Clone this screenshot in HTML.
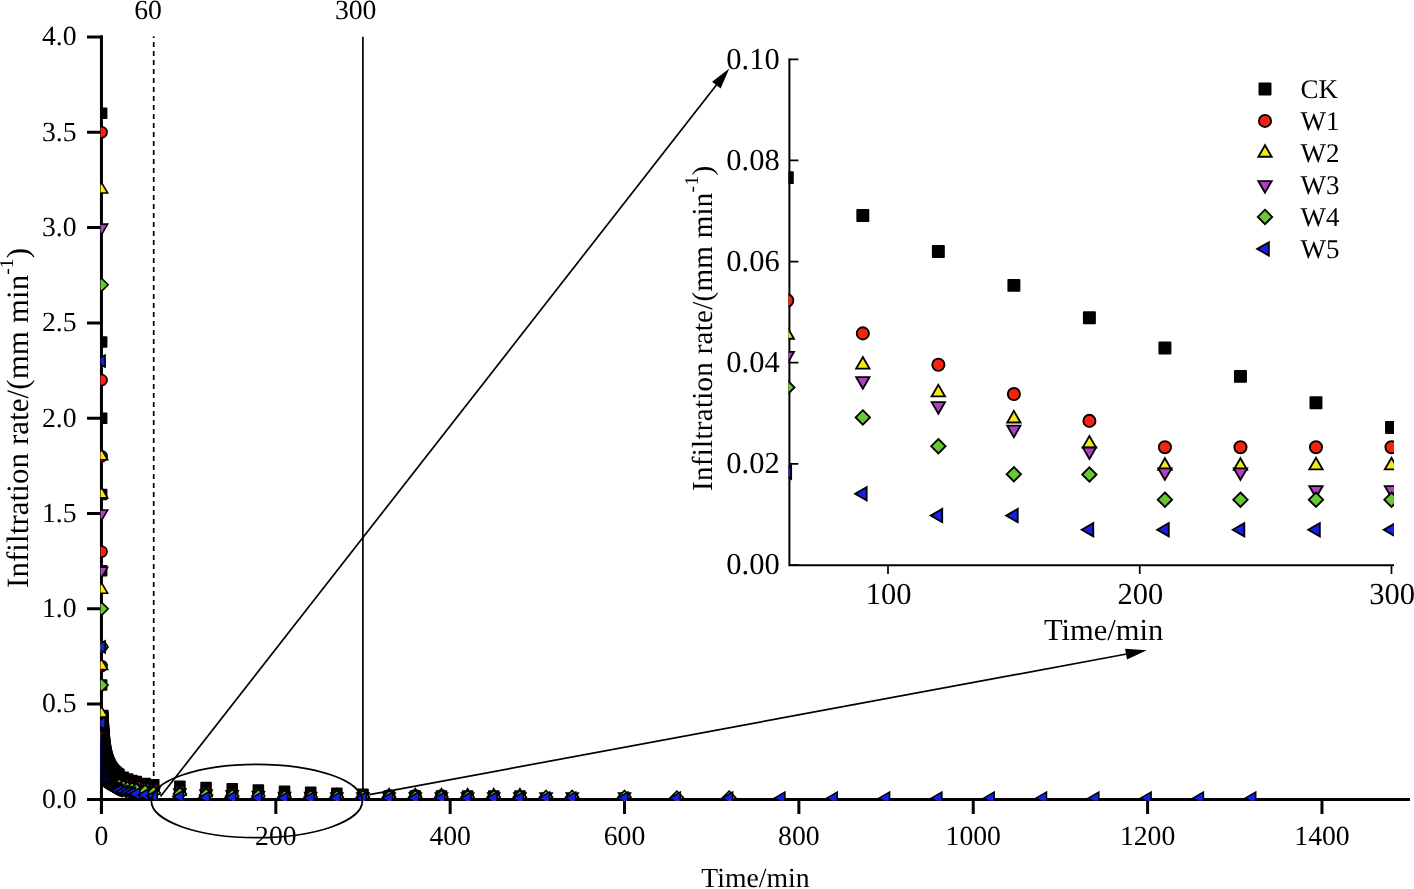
<!DOCTYPE html>
<html><head><meta charset="utf-8"><title>Infiltration rate</title>
<style>html,body{margin:0;padding:0;background:#fff;}body{width:1414px;height:889px;overflow:hidden;font-family:"Liberation Serif",serif;}svg{display:block;will-change:transform;}</style>
</head><body>
<svg width="1414" height="889" viewBox="0 0 1414 889" font-family="'Liberation Serif', serif" fill="#000" text-rendering="geometricPrecision">
<defs>
<clipPath id="cm"><rect x="100.55" y="20" width="1309.45" height="780.85"/></clipPath>
<clipPath id="ci"><rect x="788.5" y="50" width="605.5" height="516.2"/></clipPath>
</defs>
<rect width="1414" height="889" fill="#fff"/>
<line x1="153.7" y1="36.2" x2="153.7" y2="799.4" stroke="#000" stroke-width="1.7" stroke-dasharray="5 4" stroke-dashoffset="3.3"/>
<line x1="362.9" y1="36.8" x2="362.9" y2="799.4" stroke="#000" stroke-width="1.7"/>
<path d="M101.45 35.4V814.1M87 799.4H1410" stroke="#000" stroke-width="3" fill="none"/>
<path d="M87 799.40H102.95M87 704.10H102.95M87 608.80H102.95M87 513.50H102.95M87 418.20H102.95M87 322.90H102.95M87 227.60H102.95M87 132.30H102.95M87 37.00H102.95M101.45 799.4V814.1M275.81 799.4V814.1M450.17 799.4V814.1M624.53 799.4V814.1M798.89 799.4V814.1M973.25 799.4V814.1M1147.61 799.4V814.1M1321.97 799.4V814.1" stroke="#000" stroke-width="3" fill="none"/>
<g clip-path="url(#cm)">
<rect x="96.63" y="108.25" width="9.99" height="9.99" fill="#000000" stroke="#000" stroke-width="1.6" stroke-linejoin="round"/>
<rect x="96.63" y="336.96" width="9.99" height="9.99" fill="#000000" stroke="#000" stroke-width="1.6" stroke-linejoin="round"/>
<rect x="96.63" y="413.20" width="9.99" height="9.99" fill="#000000" stroke="#000" stroke-width="1.6" stroke-linejoin="round"/>
<rect x="96.63" y="489.44" width="9.99" height="9.99" fill="#000000" stroke="#000" stroke-width="1.6" stroke-linejoin="round"/>
<rect x="96.63" y="565.68" width="9.99" height="9.99" fill="#000000" stroke="#000" stroke-width="1.6" stroke-linejoin="round"/>
<rect x="96.63" y="680.04" width="9.99" height="9.99" fill="#000000" stroke="#000" stroke-width="1.6" stroke-linejoin="round"/>
<rect x="97.83" y="710.54" width="9.99" height="9.99" fill="#000000" stroke="#000" stroke-width="1.6" stroke-linejoin="round"/>
<rect x="97.87" y="711.94" width="9.99" height="9.99" fill="#000000" stroke="#000" stroke-width="1.6" stroke-linejoin="round"/>
<rect x="97.93" y="713.34" width="9.99" height="9.99" fill="#000000" stroke="#000" stroke-width="1.6" stroke-linejoin="round"/>
<rect x="97.98" y="714.74" width="9.99" height="9.99" fill="#000000" stroke="#000" stroke-width="1.6" stroke-linejoin="round"/>
<rect x="98.04" y="716.14" width="9.99" height="9.99" fill="#000000" stroke="#000" stroke-width="1.6" stroke-linejoin="round"/>
<rect x="98.10" y="717.54" width="9.99" height="9.99" fill="#000000" stroke="#000" stroke-width="1.6" stroke-linejoin="round"/>
<rect x="98.16" y="718.94" width="9.99" height="9.99" fill="#000000" stroke="#000" stroke-width="1.6" stroke-linejoin="round"/>
<rect x="98.23" y="720.34" width="9.99" height="9.99" fill="#000000" stroke="#000" stroke-width="1.6" stroke-linejoin="round"/>
<rect x="98.30" y="721.74" width="9.99" height="9.99" fill="#000000" stroke="#000" stroke-width="1.6" stroke-linejoin="round"/>
<rect x="98.38" y="723.14" width="9.99" height="9.99" fill="#000000" stroke="#000" stroke-width="1.6" stroke-linejoin="round"/>
<rect x="98.46" y="724.54" width="9.99" height="9.99" fill="#000000" stroke="#000" stroke-width="1.6" stroke-linejoin="round"/>
<rect x="98.55" y="725.94" width="9.99" height="9.99" fill="#000000" stroke="#000" stroke-width="1.6" stroke-linejoin="round"/>
<rect x="98.64" y="727.34" width="9.99" height="9.99" fill="#000000" stroke="#000" stroke-width="1.6" stroke-linejoin="round"/>
<rect x="98.74" y="728.74" width="9.99" height="9.99" fill="#000000" stroke="#000" stroke-width="1.6" stroke-linejoin="round"/>
<rect x="98.84" y="730.14" width="9.99" height="9.99" fill="#000000" stroke="#000" stroke-width="1.6" stroke-linejoin="round"/>
<rect x="98.95" y="731.54" width="9.99" height="9.99" fill="#000000" stroke="#000" stroke-width="1.6" stroke-linejoin="round"/>
<rect x="99.07" y="732.94" width="9.99" height="9.99" fill="#000000" stroke="#000" stroke-width="1.6" stroke-linejoin="round"/>
<rect x="99.20" y="734.34" width="9.99" height="9.99" fill="#000000" stroke="#000" stroke-width="1.6" stroke-linejoin="round"/>
<rect x="99.34" y="735.74" width="9.99" height="9.99" fill="#000000" stroke="#000" stroke-width="1.6" stroke-linejoin="round"/>
<rect x="99.49" y="737.14" width="9.99" height="9.99" fill="#000000" stroke="#000" stroke-width="1.6" stroke-linejoin="round"/>
<rect x="99.65" y="738.54" width="9.99" height="9.99" fill="#000000" stroke="#000" stroke-width="1.6" stroke-linejoin="round"/>
<rect x="99.82" y="739.94" width="9.99" height="9.99" fill="#000000" stroke="#000" stroke-width="1.6" stroke-linejoin="round"/>
<rect x="100.01" y="741.34" width="9.99" height="9.99" fill="#000000" stroke="#000" stroke-width="1.6" stroke-linejoin="round"/>
<rect x="100.21" y="742.74" width="9.99" height="9.99" fill="#000000" stroke="#000" stroke-width="1.6" stroke-linejoin="round"/>
<rect x="100.44" y="744.14" width="9.99" height="9.99" fill="#000000" stroke="#000" stroke-width="1.6" stroke-linejoin="round"/>
<rect x="100.68" y="745.54" width="9.99" height="9.99" fill="#000000" stroke="#000" stroke-width="1.6" stroke-linejoin="round"/>
<rect x="100.94" y="746.94" width="9.99" height="9.99" fill="#000000" stroke="#000" stroke-width="1.6" stroke-linejoin="round"/>
<rect x="101.23" y="748.34" width="9.99" height="9.99" fill="#000000" stroke="#000" stroke-width="1.6" stroke-linejoin="round"/>
<rect x="101.55" y="749.74" width="9.99" height="9.99" fill="#000000" stroke="#000" stroke-width="1.6" stroke-linejoin="round"/>
<rect x="101.90" y="751.14" width="9.99" height="9.99" fill="#000000" stroke="#000" stroke-width="1.6" stroke-linejoin="round"/>
<rect x="102.28" y="752.54" width="9.99" height="9.99" fill="#000000" stroke="#000" stroke-width="1.6" stroke-linejoin="round"/>
<rect x="102.71" y="753.94" width="9.99" height="9.99" fill="#000000" stroke="#000" stroke-width="1.6" stroke-linejoin="round"/>
<rect x="103.19" y="755.34" width="9.99" height="9.99" fill="#000000" stroke="#000" stroke-width="1.6" stroke-linejoin="round"/>
<rect x="103.72" y="756.74" width="9.99" height="9.99" fill="#000000" stroke="#000" stroke-width="1.6" stroke-linejoin="round"/>
<rect x="104.31" y="758.14" width="9.99" height="9.99" fill="#000000" stroke="#000" stroke-width="1.6" stroke-linejoin="round"/>
<rect x="104.99" y="759.54" width="9.99" height="9.99" fill="#000000" stroke="#000" stroke-width="1.6" stroke-linejoin="round"/>
<rect x="105.75" y="760.94" width="9.99" height="9.99" fill="#000000" stroke="#000" stroke-width="1.6" stroke-linejoin="round"/>
<rect x="106.61" y="762.34" width="9.99" height="9.99" fill="#000000" stroke="#000" stroke-width="1.6" stroke-linejoin="round"/>
<rect x="107.48" y="763.58" width="9.99" height="9.99" fill="#000000" stroke="#000" stroke-width="1.6" stroke-linejoin="round"/>
<rect x="108.36" y="764.69" width="9.99" height="9.99" fill="#000000" stroke="#000" stroke-width="1.6" stroke-linejoin="round"/>
<rect x="109.23" y="765.68" width="9.99" height="9.99" fill="#000000" stroke="#000" stroke-width="1.6" stroke-linejoin="round"/>
<rect x="110.10" y="766.58" width="9.99" height="9.99" fill="#000000" stroke="#000" stroke-width="1.6" stroke-linejoin="round"/>
<rect x="110.97" y="767.39" width="9.99" height="9.99" fill="#000000" stroke="#000" stroke-width="1.6" stroke-linejoin="round"/>
<rect x="111.84" y="768.14" width="9.99" height="9.99" fill="#000000" stroke="#000" stroke-width="1.6" stroke-linejoin="round"/>
<rect x="112.71" y="768.82" width="9.99" height="9.99" fill="#000000" stroke="#000" stroke-width="1.6" stroke-linejoin="round"/>
<rect x="113.59" y="769.46" width="9.99" height="9.99" fill="#000000" stroke="#000" stroke-width="1.6" stroke-linejoin="round"/>
<rect x="113.89" y="769.67" width="9.99" height="9.99" fill="#000000" stroke="#000" stroke-width="1.6" stroke-linejoin="round"/>
<rect x="118.25" y="772.18" width="9.99" height="9.99" fill="#000000" stroke="#000" stroke-width="1.6" stroke-linejoin="round"/>
<rect x="122.61" y="774.04" width="9.99" height="9.99" fill="#000000" stroke="#000" stroke-width="1.6" stroke-linejoin="round"/>
<rect x="126.97" y="775.49" width="9.99" height="9.99" fill="#000000" stroke="#000" stroke-width="1.6" stroke-linejoin="round"/>
<rect x="131.33" y="776.67" width="9.99" height="9.99" fill="#000000" stroke="#000" stroke-width="1.6" stroke-linejoin="round"/>
<rect x="140.05" y="778.47" width="9.99" height="9.99" fill="#000000" stroke="#000" stroke-width="1.6" stroke-linejoin="round"/>
<rect x="148.76" y="779.81" width="9.99" height="9.99" fill="#000000" stroke="#000" stroke-width="1.6" stroke-linejoin="round"/>
<rect x="174.92" y="781.23" width="9.99" height="9.99" fill="#000000" stroke="#000" stroke-width="1.6" stroke-linejoin="round"/>
<rect x="201.07" y="782.59" width="9.99" height="9.99" fill="#000000" stroke="#000" stroke-width="1.6" stroke-linejoin="round"/>
<rect x="227.23" y="783.86" width="9.99" height="9.99" fill="#000000" stroke="#000" stroke-width="1.6" stroke-linejoin="round"/>
<rect x="253.38" y="785.08" width="9.99" height="9.99" fill="#000000" stroke="#000" stroke-width="1.6" stroke-linejoin="round"/>
<rect x="279.53" y="786.23" width="9.99" height="9.99" fill="#000000" stroke="#000" stroke-width="1.6" stroke-linejoin="round"/>
<rect x="305.69" y="787.30" width="9.99" height="9.99" fill="#000000" stroke="#000" stroke-width="1.6" stroke-linejoin="round"/>
<rect x="331.84" y="788.29" width="9.99" height="9.99" fill="#000000" stroke="#000" stroke-width="1.6" stroke-linejoin="round"/>
<rect x="358.00" y="789.22" width="9.99" height="9.99" fill="#000000" stroke="#000" stroke-width="1.6" stroke-linejoin="round"/>
<rect x="384.15" y="790.97" width="9.99" height="9.99" fill="#000000" stroke="#000" stroke-width="1.6" stroke-linejoin="round"/>
<rect x="410.30" y="790.97" width="9.99" height="9.99" fill="#000000" stroke="#000" stroke-width="1.6" stroke-linejoin="round"/>
<rect x="436.46" y="790.97" width="9.99" height="9.99" fill="#000000" stroke="#000" stroke-width="1.6" stroke-linejoin="round"/>
<rect x="462.61" y="790.97" width="9.99" height="9.99" fill="#000000" stroke="#000" stroke-width="1.6" stroke-linejoin="round"/>
<rect x="488.76" y="790.97" width="9.99" height="9.99" fill="#000000" stroke="#000" stroke-width="1.6" stroke-linejoin="round"/>
<rect x="514.92" y="790.97" width="9.99" height="9.99" fill="#000000" stroke="#000" stroke-width="1.6" stroke-linejoin="round"/>
<circle cx="101.62" cy="132.30" r="5.49" fill="#f5230f" stroke="#000" stroke-width="1.6" stroke-linejoin="miter"/>
<circle cx="101.62" cy="380.08" r="5.49" fill="#f5230f" stroke="#000" stroke-width="1.6" stroke-linejoin="miter"/>
<circle cx="101.62" cy="456.32" r="5.49" fill="#f5230f" stroke="#000" stroke-width="1.6" stroke-linejoin="miter"/>
<circle cx="101.62" cy="551.62" r="5.49" fill="#f5230f" stroke="#000" stroke-width="1.6" stroke-linejoin="miter"/>
<circle cx="101.62" cy="646.92" r="5.49" fill="#f5230f" stroke="#000" stroke-width="1.6" stroke-linejoin="miter"/>
<circle cx="101.62" cy="665.98" r="5.49" fill="#f5230f" stroke="#000" stroke-width="1.6" stroke-linejoin="miter"/>
<circle cx="103.23" cy="738.41" r="5.49" fill="#f5230f" stroke="#000" stroke-width="1.6" stroke-linejoin="miter"/>
<circle cx="103.31" cy="739.81" r="5.49" fill="#f5230f" stroke="#000" stroke-width="1.6" stroke-linejoin="miter"/>
<circle cx="103.40" cy="741.21" r="5.49" fill="#f5230f" stroke="#000" stroke-width="1.6" stroke-linejoin="miter"/>
<circle cx="103.50" cy="742.61" r="5.49" fill="#f5230f" stroke="#000" stroke-width="1.6" stroke-linejoin="miter"/>
<circle cx="103.60" cy="744.01" r="5.49" fill="#f5230f" stroke="#000" stroke-width="1.6" stroke-linejoin="miter"/>
<circle cx="103.71" cy="745.41" r="5.49" fill="#f5230f" stroke="#000" stroke-width="1.6" stroke-linejoin="miter"/>
<circle cx="103.83" cy="746.81" r="5.49" fill="#f5230f" stroke="#000" stroke-width="1.6" stroke-linejoin="miter"/>
<circle cx="103.95" cy="748.21" r="5.49" fill="#f5230f" stroke="#000" stroke-width="1.6" stroke-linejoin="miter"/>
<circle cx="104.09" cy="749.61" r="5.49" fill="#f5230f" stroke="#000" stroke-width="1.6" stroke-linejoin="miter"/>
<circle cx="104.24" cy="751.01" r="5.49" fill="#f5230f" stroke="#000" stroke-width="1.6" stroke-linejoin="miter"/>
<circle cx="104.41" cy="752.41" r="5.49" fill="#f5230f" stroke="#000" stroke-width="1.6" stroke-linejoin="miter"/>
<circle cx="104.59" cy="753.81" r="5.49" fill="#f5230f" stroke="#000" stroke-width="1.6" stroke-linejoin="miter"/>
<circle cx="104.78" cy="755.21" r="5.49" fill="#f5230f" stroke="#000" stroke-width="1.6" stroke-linejoin="miter"/>
<circle cx="105.00" cy="756.61" r="5.49" fill="#f5230f" stroke="#000" stroke-width="1.6" stroke-linejoin="miter"/>
<circle cx="105.23" cy="758.01" r="5.49" fill="#f5230f" stroke="#000" stroke-width="1.6" stroke-linejoin="miter"/>
<circle cx="105.49" cy="759.41" r="5.49" fill="#f5230f" stroke="#000" stroke-width="1.6" stroke-linejoin="miter"/>
<circle cx="105.78" cy="760.81" r="5.49" fill="#f5230f" stroke="#000" stroke-width="1.6" stroke-linejoin="miter"/>
<circle cx="106.11" cy="762.21" r="5.49" fill="#f5230f" stroke="#000" stroke-width="1.6" stroke-linejoin="miter"/>
<circle cx="106.47" cy="763.61" r="5.49" fill="#f5230f" stroke="#000" stroke-width="1.6" stroke-linejoin="miter"/>
<circle cx="106.87" cy="765.01" r="5.49" fill="#f5230f" stroke="#000" stroke-width="1.6" stroke-linejoin="miter"/>
<circle cx="107.33" cy="766.41" r="5.49" fill="#f5230f" stroke="#000" stroke-width="1.6" stroke-linejoin="miter"/>
<circle cx="107.85" cy="767.81" r="5.49" fill="#f5230f" stroke="#000" stroke-width="1.6" stroke-linejoin="miter"/>
<circle cx="108.43" cy="769.21" r="5.49" fill="#f5230f" stroke="#000" stroke-width="1.6" stroke-linejoin="miter"/>
<circle cx="109.11" cy="770.61" r="5.49" fill="#f5230f" stroke="#000" stroke-width="1.6" stroke-linejoin="miter"/>
<circle cx="109.89" cy="772.01" r="5.49" fill="#f5230f" stroke="#000" stroke-width="1.6" stroke-linejoin="miter"/>
<circle cx="110.76" cy="773.36" r="5.49" fill="#f5230f" stroke="#000" stroke-width="1.6" stroke-linejoin="miter"/>
<circle cx="111.63" cy="774.53" r="5.49" fill="#f5230f" stroke="#000" stroke-width="1.6" stroke-linejoin="miter"/>
<circle cx="112.50" cy="775.56" r="5.49" fill="#f5230f" stroke="#000" stroke-width="1.6" stroke-linejoin="miter"/>
<circle cx="113.37" cy="776.48" r="5.49" fill="#f5230f" stroke="#000" stroke-width="1.6" stroke-linejoin="miter"/>
<circle cx="114.25" cy="777.29" r="5.49" fill="#f5230f" stroke="#000" stroke-width="1.6" stroke-linejoin="miter"/>
<circle cx="115.12" cy="778.03" r="5.49" fill="#f5230f" stroke="#000" stroke-width="1.6" stroke-linejoin="miter"/>
<circle cx="115.99" cy="778.70" r="5.49" fill="#f5230f" stroke="#000" stroke-width="1.6" stroke-linejoin="miter"/>
<circle cx="116.86" cy="779.31" r="5.49" fill="#f5230f" stroke="#000" stroke-width="1.6" stroke-linejoin="miter"/>
<circle cx="117.73" cy="779.87" r="5.49" fill="#f5230f" stroke="#000" stroke-width="1.6" stroke-linejoin="miter"/>
<circle cx="118.61" cy="780.39" r="5.49" fill="#f5230f" stroke="#000" stroke-width="1.6" stroke-linejoin="miter"/>
<circle cx="118.89" cy="780.55" r="5.49" fill="#f5230f" stroke="#000" stroke-width="1.6" stroke-linejoin="miter"/>
<circle cx="123.25" cy="782.59" r="5.49" fill="#f5230f" stroke="#000" stroke-width="1.6" stroke-linejoin="miter"/>
<circle cx="127.60" cy="784.10" r="5.49" fill="#f5230f" stroke="#000" stroke-width="1.6" stroke-linejoin="miter"/>
<circle cx="131.96" cy="785.27" r="5.49" fill="#f5230f" stroke="#000" stroke-width="1.6" stroke-linejoin="miter"/>
<circle cx="136.32" cy="786.41" r="5.49" fill="#f5230f" stroke="#000" stroke-width="1.6" stroke-linejoin="miter"/>
<circle cx="145.04" cy="788.11" r="5.49" fill="#f5230f" stroke="#000" stroke-width="1.6" stroke-linejoin="miter"/>
<circle cx="153.76" cy="789.43" r="5.49" fill="#f5230f" stroke="#000" stroke-width="1.6" stroke-linejoin="miter"/>
<circle cx="179.91" cy="790.67" r="5.49" fill="#f5230f" stroke="#000" stroke-width="1.6" stroke-linejoin="miter"/>
<circle cx="206.07" cy="791.85" r="5.49" fill="#f5230f" stroke="#000" stroke-width="1.6" stroke-linejoin="miter"/>
<circle cx="232.22" cy="792.96" r="5.49" fill="#f5230f" stroke="#000" stroke-width="1.6" stroke-linejoin="miter"/>
<circle cx="258.37" cy="793.97" r="5.49" fill="#f5230f" stroke="#000" stroke-width="1.6" stroke-linejoin="miter"/>
<circle cx="284.53" cy="794.96" r="5.49" fill="#f5230f" stroke="#000" stroke-width="1.6" stroke-linejoin="miter"/>
<circle cx="310.68" cy="794.96" r="5.49" fill="#f5230f" stroke="#000" stroke-width="1.6" stroke-linejoin="miter"/>
<circle cx="336.84" cy="794.96" r="5.49" fill="#f5230f" stroke="#000" stroke-width="1.6" stroke-linejoin="miter"/>
<circle cx="362.99" cy="794.96" r="5.49" fill="#f5230f" stroke="#000" stroke-width="1.6" stroke-linejoin="miter"/>
<circle cx="389.14" cy="795.30" r="5.49" fill="#f5230f" stroke="#000" stroke-width="1.6" stroke-linejoin="miter"/>
<circle cx="415.30" cy="795.30" r="5.49" fill="#f5230f" stroke="#000" stroke-width="1.6" stroke-linejoin="miter"/>
<circle cx="441.45" cy="795.30" r="5.49" fill="#f5230f" stroke="#000" stroke-width="1.6" stroke-linejoin="miter"/>
<circle cx="467.61" cy="796.54" r="5.49" fill="#f5230f" stroke="#000" stroke-width="1.6" stroke-linejoin="miter"/>
<circle cx="493.76" cy="796.54" r="5.49" fill="#f5230f" stroke="#000" stroke-width="1.6" stroke-linejoin="miter"/>
<circle cx="519.91" cy="796.54" r="5.49" fill="#f5230f" stroke="#000" stroke-width="1.6" stroke-linejoin="miter"/>
<path d="M101.62 182.55L107.63 192.95L95.62 192.95Z" fill="#f4e916" stroke="#000" stroke-width="1.6" stroke-linejoin="miter"/>
<path d="M101.62 449.39L107.63 459.78L95.62 459.78Z" fill="#f4e916" stroke="#000" stroke-width="1.6" stroke-linejoin="miter"/>
<path d="M101.62 487.51L107.63 497.90L95.62 497.90Z" fill="#f4e916" stroke="#000" stroke-width="1.6" stroke-linejoin="miter"/>
<path d="M101.62 582.81L107.63 593.21L95.62 593.21Z" fill="#f4e916" stroke="#000" stroke-width="1.6" stroke-linejoin="miter"/>
<path d="M101.62 659.05L107.63 669.45L95.62 669.45Z" fill="#f4e916" stroke="#000" stroke-width="1.6" stroke-linejoin="miter"/>
<path d="M101.62 706.70L107.63 717.10L95.62 717.10Z" fill="#f4e916" stroke="#000" stroke-width="1.6" stroke-linejoin="miter"/>
<path d="M103.21 735.29L109.21 745.69L97.21 745.69Z" fill="#f4e916" stroke="#000" stroke-width="1.6" stroke-linejoin="miter"/>
<path d="M103.30 736.69L109.30 747.09L97.30 747.09Z" fill="#f4e916" stroke="#000" stroke-width="1.6" stroke-linejoin="miter"/>
<path d="M103.39 738.09L109.39 748.49L97.39 748.49Z" fill="#f4e916" stroke="#000" stroke-width="1.6" stroke-linejoin="miter"/>
<path d="M103.49 739.49L109.49 749.89L97.48 749.89Z" fill="#f4e916" stroke="#000" stroke-width="1.6" stroke-linejoin="miter"/>
<path d="M103.59 740.89L109.59 751.29L97.59 751.29Z" fill="#f4e916" stroke="#000" stroke-width="1.6" stroke-linejoin="miter"/>
<path d="M103.71 742.29L109.71 752.69L97.71 752.69Z" fill="#f4e916" stroke="#000" stroke-width="1.6" stroke-linejoin="miter"/>
<path d="M103.83 743.69L109.83 754.09L97.83 754.09Z" fill="#f4e916" stroke="#000" stroke-width="1.6" stroke-linejoin="miter"/>
<path d="M103.97 745.09L109.97 755.49L97.97 755.49Z" fill="#f4e916" stroke="#000" stroke-width="1.6" stroke-linejoin="miter"/>
<path d="M104.11 746.49L110.12 756.89L98.11 756.89Z" fill="#f4e916" stroke="#000" stroke-width="1.6" stroke-linejoin="miter"/>
<path d="M104.28 747.89L110.28 758.29L98.27 758.29Z" fill="#f4e916" stroke="#000" stroke-width="1.6" stroke-linejoin="miter"/>
<path d="M104.45 749.29L110.45 759.69L98.45 759.69Z" fill="#f4e916" stroke="#000" stroke-width="1.6" stroke-linejoin="miter"/>
<path d="M104.64 750.69L110.65 761.09L98.64 761.09Z" fill="#f4e916" stroke="#000" stroke-width="1.6" stroke-linejoin="miter"/>
<path d="M104.86 752.09L110.86 762.49L98.86 762.49Z" fill="#f4e916" stroke="#000" stroke-width="1.6" stroke-linejoin="miter"/>
<path d="M105.09 753.49L111.10 763.89L99.09 763.89Z" fill="#f4e916" stroke="#000" stroke-width="1.6" stroke-linejoin="miter"/>
<path d="M105.36 754.89L111.36 765.29L99.35 765.29Z" fill="#f4e916" stroke="#000" stroke-width="1.6" stroke-linejoin="miter"/>
<path d="M105.65 756.29L111.65 766.69L99.65 766.69Z" fill="#f4e916" stroke="#000" stroke-width="1.6" stroke-linejoin="miter"/>
<path d="M105.97 757.69L111.97 768.09L99.97 768.09Z" fill="#f4e916" stroke="#000" stroke-width="1.6" stroke-linejoin="miter"/>
<path d="M106.34 759.09L112.34 769.49L100.34 769.49Z" fill="#f4e916" stroke="#000" stroke-width="1.6" stroke-linejoin="miter"/>
<path d="M106.75 760.49L112.76 770.89L100.75 770.89Z" fill="#f4e916" stroke="#000" stroke-width="1.6" stroke-linejoin="miter"/>
<path d="M107.22 761.89L113.23 772.29L101.22 772.29Z" fill="#f4e916" stroke="#000" stroke-width="1.6" stroke-linejoin="miter"/>
<path d="M107.76 763.29L113.76 773.69L101.76 773.69Z" fill="#f4e916" stroke="#000" stroke-width="1.6" stroke-linejoin="miter"/>
<path d="M108.38 764.69L114.38 775.09L102.38 775.09Z" fill="#f4e916" stroke="#000" stroke-width="1.6" stroke-linejoin="miter"/>
<path d="M109.09 766.09L115.09 776.49L103.09 776.49Z" fill="#f4e916" stroke="#000" stroke-width="1.6" stroke-linejoin="miter"/>
<path d="M109.92 767.49L115.92 777.89L103.92 777.89Z" fill="#f4e916" stroke="#000" stroke-width="1.6" stroke-linejoin="miter"/>
<path d="M110.79 768.75L116.80 779.14L104.79 779.14Z" fill="#f4e916" stroke="#000" stroke-width="1.6" stroke-linejoin="miter"/>
<path d="M111.67 769.84L117.67 780.23L105.66 780.23Z" fill="#f4e916" stroke="#000" stroke-width="1.6" stroke-linejoin="miter"/>
<path d="M112.54 770.79L118.54 781.19L106.54 781.19Z" fill="#f4e916" stroke="#000" stroke-width="1.6" stroke-linejoin="miter"/>
<path d="M113.41 771.64L119.41 782.04L107.41 782.04Z" fill="#f4e916" stroke="#000" stroke-width="1.6" stroke-linejoin="miter"/>
<path d="M114.28 772.40L120.28 782.80L108.28 782.80Z" fill="#f4e916" stroke="#000" stroke-width="1.6" stroke-linejoin="miter"/>
<path d="M115.15 773.08L121.16 783.48L109.15 783.48Z" fill="#f4e916" stroke="#000" stroke-width="1.6" stroke-linejoin="miter"/>
<path d="M116.03 773.70L122.03 784.10L110.02 784.10Z" fill="#f4e916" stroke="#000" stroke-width="1.6" stroke-linejoin="miter"/>
<path d="M116.90 774.27L122.90 784.67L110.90 784.67Z" fill="#f4e916" stroke="#000" stroke-width="1.6" stroke-linejoin="miter"/>
<path d="M117.77 774.79L123.77 785.19L111.77 785.19Z" fill="#f4e916" stroke="#000" stroke-width="1.6" stroke-linejoin="miter"/>
<path d="M118.64 775.27L124.64 785.66L112.64 785.66Z" fill="#f4e916" stroke="#000" stroke-width="1.6" stroke-linejoin="miter"/>
<path d="M118.89 775.40L124.89 785.79L112.88 785.79Z" fill="#f4e916" stroke="#000" stroke-width="1.6" stroke-linejoin="miter"/>
<path d="M123.25 777.29L129.25 787.69L117.24 787.69Z" fill="#f4e916" stroke="#000" stroke-width="1.6" stroke-linejoin="miter"/>
<path d="M127.60 778.68L133.61 789.08L121.60 789.08Z" fill="#f4e916" stroke="#000" stroke-width="1.6" stroke-linejoin="miter"/>
<path d="M131.96 779.76L137.96 790.16L125.96 790.16Z" fill="#f4e916" stroke="#000" stroke-width="1.6" stroke-linejoin="miter"/>
<path d="M136.32 780.87L142.32 791.27L130.32 791.27Z" fill="#f4e916" stroke="#000" stroke-width="1.6" stroke-linejoin="miter"/>
<path d="M145.04 782.51L151.04 792.91L139.04 792.91Z" fill="#f4e916" stroke="#000" stroke-width="1.6" stroke-linejoin="miter"/>
<path d="M153.76 783.80L159.76 794.19L147.76 794.19Z" fill="#f4e916" stroke="#000" stroke-width="1.6" stroke-linejoin="miter"/>
<path d="M179.91 784.92L185.91 795.32L173.91 795.32Z" fill="#f4e916" stroke="#000" stroke-width="1.6" stroke-linejoin="miter"/>
<path d="M206.07 785.97L212.07 796.37L200.06 796.37Z" fill="#f4e916" stroke="#000" stroke-width="1.6" stroke-linejoin="miter"/>
<path d="M232.22 786.95L238.22 797.35L226.22 797.35Z" fill="#f4e916" stroke="#000" stroke-width="1.6" stroke-linejoin="miter"/>
<path d="M258.37 787.90L264.38 798.30L252.37 798.30Z" fill="#f4e916" stroke="#000" stroke-width="1.6" stroke-linejoin="miter"/>
<path d="M284.53 788.73L290.53 799.13L278.53 799.13Z" fill="#f4e916" stroke="#000" stroke-width="1.6" stroke-linejoin="miter"/>
<path d="M310.68 788.73L316.68 799.13L304.68 799.13Z" fill="#f4e916" stroke="#000" stroke-width="1.6" stroke-linejoin="miter"/>
<path d="M336.84 788.72L342.84 799.12L330.83 799.12Z" fill="#f4e916" stroke="#000" stroke-width="1.6" stroke-linejoin="miter"/>
<path d="M362.99 788.72L368.99 799.12L356.99 799.12Z" fill="#f4e916" stroke="#000" stroke-width="1.6" stroke-linejoin="miter"/>
<path d="M389.14 788.72L395.15 799.11L383.14 799.11Z" fill="#f4e916" stroke="#000" stroke-width="1.6" stroke-linejoin="miter"/>
<path d="M415.30 788.72L421.30 799.11L409.30 799.11Z" fill="#f4e916" stroke="#000" stroke-width="1.6" stroke-linejoin="miter"/>
<path d="M441.45 788.72L447.45 799.11L435.45 799.11Z" fill="#f4e916" stroke="#000" stroke-width="1.6" stroke-linejoin="miter"/>
<path d="M467.61 788.72L473.61 799.11L461.60 799.11Z" fill="#f4e916" stroke="#000" stroke-width="1.6" stroke-linejoin="miter"/>
<path d="M493.76 788.72L499.76 799.11L487.76 799.11Z" fill="#f4e916" stroke="#000" stroke-width="1.6" stroke-linejoin="miter"/>
<path d="M519.91 788.72L525.92 799.11L513.91 799.11Z" fill="#f4e916" stroke="#000" stroke-width="1.6" stroke-linejoin="miter"/>
<path d="M101.62 234.53L107.63 224.14L95.62 224.14Z" fill="#b03fc4" stroke="#000" stroke-width="1.6" stroke-linejoin="miter"/>
<path d="M101.62 520.43L107.63 510.04L95.62 510.04Z" fill="#b03fc4" stroke="#000" stroke-width="1.6" stroke-linejoin="miter"/>
<path d="M101.62 577.61L107.63 567.21L95.62 567.21Z" fill="#b03fc4" stroke="#000" stroke-width="1.6" stroke-linejoin="miter"/>
<path d="M102.69 740.57L108.69 730.18L96.69 730.18Z" fill="#b03fc4" stroke="#000" stroke-width="1.6" stroke-linejoin="miter"/>
<path d="M102.74 741.97L108.74 731.58L96.74 731.58Z" fill="#b03fc4" stroke="#000" stroke-width="1.6" stroke-linejoin="miter"/>
<path d="M102.80 743.37L108.80 732.98L96.79 732.98Z" fill="#b03fc4" stroke="#000" stroke-width="1.6" stroke-linejoin="miter"/>
<path d="M102.85 744.77L108.86 734.38L96.85 734.38Z" fill="#b03fc4" stroke="#000" stroke-width="1.6" stroke-linejoin="miter"/>
<path d="M102.92 746.17L108.92 735.78L96.91 735.78Z" fill="#b03fc4" stroke="#000" stroke-width="1.6" stroke-linejoin="miter"/>
<path d="M102.98 747.57L108.98 737.18L96.98 737.18Z" fill="#b03fc4" stroke="#000" stroke-width="1.6" stroke-linejoin="miter"/>
<path d="M103.05 748.97L109.05 738.58L97.05 738.58Z" fill="#b03fc4" stroke="#000" stroke-width="1.6" stroke-linejoin="miter"/>
<path d="M103.13 750.37L109.13 739.98L97.13 739.98Z" fill="#b03fc4" stroke="#000" stroke-width="1.6" stroke-linejoin="miter"/>
<path d="M103.21 751.77L109.21 741.38L97.21 741.38Z" fill="#b03fc4" stroke="#000" stroke-width="1.6" stroke-linejoin="miter"/>
<path d="M103.30 753.17L109.30 742.78L97.29 742.78Z" fill="#b03fc4" stroke="#000" stroke-width="1.6" stroke-linejoin="miter"/>
<path d="M103.39 754.57L109.39 744.18L97.39 744.18Z" fill="#b03fc4" stroke="#000" stroke-width="1.6" stroke-linejoin="miter"/>
<path d="M103.49 755.97L109.49 745.58L97.49 745.58Z" fill="#b03fc4" stroke="#000" stroke-width="1.6" stroke-linejoin="miter"/>
<path d="M103.60 757.37L109.60 746.98L97.60 746.98Z" fill="#b03fc4" stroke="#000" stroke-width="1.6" stroke-linejoin="miter"/>
<path d="M103.72 758.77L109.72 748.38L97.72 748.38Z" fill="#b03fc4" stroke="#000" stroke-width="1.6" stroke-linejoin="miter"/>
<path d="M103.85 760.17L109.85 749.78L97.85 749.78Z" fill="#b03fc4" stroke="#000" stroke-width="1.6" stroke-linejoin="miter"/>
<path d="M103.99 761.57L110.00 751.18L97.99 751.18Z" fill="#b03fc4" stroke="#000" stroke-width="1.6" stroke-linejoin="miter"/>
<path d="M104.15 762.97L110.15 752.58L98.15 752.58Z" fill="#b03fc4" stroke="#000" stroke-width="1.6" stroke-linejoin="miter"/>
<path d="M104.32 764.37L110.32 753.98L98.32 753.98Z" fill="#b03fc4" stroke="#000" stroke-width="1.6" stroke-linejoin="miter"/>
<path d="M104.51 765.77L110.51 755.38L98.51 755.38Z" fill="#b03fc4" stroke="#000" stroke-width="1.6" stroke-linejoin="miter"/>
<path d="M104.72 767.17L110.72 756.78L98.71 756.78Z" fill="#b03fc4" stroke="#000" stroke-width="1.6" stroke-linejoin="miter"/>
<path d="M104.95 768.57L110.95 758.18L98.94 758.18Z" fill="#b03fc4" stroke="#000" stroke-width="1.6" stroke-linejoin="miter"/>
<path d="M105.20 769.97L111.20 759.58L99.20 759.58Z" fill="#b03fc4" stroke="#000" stroke-width="1.6" stroke-linejoin="miter"/>
<path d="M105.49 771.37L111.49 760.98L99.48 760.98Z" fill="#b03fc4" stroke="#000" stroke-width="1.6" stroke-linejoin="miter"/>
<path d="M105.81 772.77L111.81 762.38L99.80 762.38Z" fill="#b03fc4" stroke="#000" stroke-width="1.6" stroke-linejoin="miter"/>
<path d="M106.17 774.17L112.17 763.78L100.16 763.78Z" fill="#b03fc4" stroke="#000" stroke-width="1.6" stroke-linejoin="miter"/>
<path d="M106.57 775.57L112.58 765.18L100.57 765.18Z" fill="#b03fc4" stroke="#000" stroke-width="1.6" stroke-linejoin="miter"/>
<path d="M107.04 776.97L113.04 766.58L101.04 766.58Z" fill="#b03fc4" stroke="#000" stroke-width="1.6" stroke-linejoin="miter"/>
<path d="M107.57 778.37L113.57 767.98L101.57 767.98Z" fill="#b03fc4" stroke="#000" stroke-width="1.6" stroke-linejoin="miter"/>
<path d="M108.19 779.77L114.19 769.38L102.19 769.38Z" fill="#b03fc4" stroke="#000" stroke-width="1.6" stroke-linejoin="miter"/>
<path d="M108.91 781.17L114.91 770.78L102.90 770.78Z" fill="#b03fc4" stroke="#000" stroke-width="1.6" stroke-linejoin="miter"/>
<path d="M109.75 782.57L115.75 772.18L103.74 772.18Z" fill="#b03fc4" stroke="#000" stroke-width="1.6" stroke-linejoin="miter"/>
<path d="M110.62 783.81L116.62 773.42L104.62 773.42Z" fill="#b03fc4" stroke="#000" stroke-width="1.6" stroke-linejoin="miter"/>
<path d="M111.49 784.88L117.49 774.49L105.49 774.49Z" fill="#b03fc4" stroke="#000" stroke-width="1.6" stroke-linejoin="miter"/>
<path d="M112.36 785.82L118.36 775.42L106.36 775.42Z" fill="#b03fc4" stroke="#000" stroke-width="1.6" stroke-linejoin="miter"/>
<path d="M113.23 786.65L119.23 776.25L107.23 776.25Z" fill="#b03fc4" stroke="#000" stroke-width="1.6" stroke-linejoin="miter"/>
<path d="M114.10 787.39L120.11 776.99L108.10 776.99Z" fill="#b03fc4" stroke="#000" stroke-width="1.6" stroke-linejoin="miter"/>
<path d="M114.98 788.05L120.98 777.65L108.98 777.65Z" fill="#b03fc4" stroke="#000" stroke-width="1.6" stroke-linejoin="miter"/>
<path d="M115.85 788.65L121.85 778.26L109.85 778.26Z" fill="#b03fc4" stroke="#000" stroke-width="1.6" stroke-linejoin="miter"/>
<path d="M116.72 789.20L122.72 778.80L110.72 778.80Z" fill="#b03fc4" stroke="#000" stroke-width="1.6" stroke-linejoin="miter"/>
<path d="M117.59 789.70L123.59 779.31L111.59 779.31Z" fill="#b03fc4" stroke="#000" stroke-width="1.6" stroke-linejoin="miter"/>
<path d="M118.46 790.16L124.47 779.77L112.46 779.77Z" fill="#b03fc4" stroke="#000" stroke-width="1.6" stroke-linejoin="miter"/>
<path d="M118.89 790.38L124.89 779.98L112.88 779.98Z" fill="#b03fc4" stroke="#000" stroke-width="1.6" stroke-linejoin="miter"/>
<path d="M123.25 792.17L129.25 781.78L117.24 781.78Z" fill="#b03fc4" stroke="#000" stroke-width="1.6" stroke-linejoin="miter"/>
<path d="M127.60 793.49L133.61 783.10L121.60 783.10Z" fill="#b03fc4" stroke="#000" stroke-width="1.6" stroke-linejoin="miter"/>
<path d="M131.96 794.51L137.96 784.11L125.96 784.11Z" fill="#b03fc4" stroke="#000" stroke-width="1.6" stroke-linejoin="miter"/>
<path d="M136.32 795.60L142.32 785.20L130.32 785.20Z" fill="#b03fc4" stroke="#000" stroke-width="1.6" stroke-linejoin="miter"/>
<path d="M145.04 797.19L151.04 786.80L139.04 786.80Z" fill="#b03fc4" stroke="#000" stroke-width="1.6" stroke-linejoin="miter"/>
<path d="M153.76 798.44L159.76 788.05L147.76 788.05Z" fill="#b03fc4" stroke="#000" stroke-width="1.6" stroke-linejoin="miter"/>
<path d="M179.91 799.39L185.91 789.00L173.91 789.00Z" fill="#b03fc4" stroke="#000" stroke-width="1.6" stroke-linejoin="miter"/>
<path d="M206.07 800.34L212.07 789.94L200.06 789.94Z" fill="#b03fc4" stroke="#000" stroke-width="1.6" stroke-linejoin="miter"/>
<path d="M232.22 801.22L238.22 790.83L226.22 790.83Z" fill="#b03fc4" stroke="#000" stroke-width="1.6" stroke-linejoin="miter"/>
<path d="M258.37 802.05L264.38 791.65L252.37 791.65Z" fill="#b03fc4" stroke="#000" stroke-width="1.6" stroke-linejoin="miter"/>
<path d="M284.53 802.83L290.53 792.44L278.53 792.44Z" fill="#b03fc4" stroke="#000" stroke-width="1.6" stroke-linejoin="miter"/>
<path d="M310.68 802.83L316.68 792.44L304.68 792.44Z" fill="#b03fc4" stroke="#000" stroke-width="1.6" stroke-linejoin="miter"/>
<path d="M336.84 803.50L342.84 793.11L330.83 793.11Z" fill="#b03fc4" stroke="#000" stroke-width="1.6" stroke-linejoin="miter"/>
<path d="M362.99 803.50L368.99 793.11L356.99 793.11Z" fill="#b03fc4" stroke="#000" stroke-width="1.6" stroke-linejoin="miter"/>
<path d="M389.14 803.51L395.15 793.11L383.14 793.11Z" fill="#b03fc4" stroke="#000" stroke-width="1.6" stroke-linejoin="miter"/>
<path d="M415.30 803.51L421.30 793.11L409.30 793.11Z" fill="#b03fc4" stroke="#000" stroke-width="1.6" stroke-linejoin="miter"/>
<path d="M441.45 803.51L447.45 793.11L435.45 793.11Z" fill="#b03fc4" stroke="#000" stroke-width="1.6" stroke-linejoin="miter"/>
<path d="M467.61 803.51L473.61 793.11L461.60 793.11Z" fill="#b03fc4" stroke="#000" stroke-width="1.6" stroke-linejoin="miter"/>
<path d="M493.76 803.51L499.76 793.11L487.76 793.11Z" fill="#b03fc4" stroke="#000" stroke-width="1.6" stroke-linejoin="miter"/>
<path d="M519.91 803.51L525.92 793.11L513.91 793.11Z" fill="#b03fc4" stroke="#000" stroke-width="1.6" stroke-linejoin="miter"/>
<path d="M546.07 803.51L552.07 793.11L540.07 793.11Z" fill="#b03fc4" stroke="#000" stroke-width="1.6" stroke-linejoin="miter"/>
<path d="M572.22 803.51L578.22 793.11L566.22 793.11Z" fill="#b03fc4" stroke="#000" stroke-width="1.6" stroke-linejoin="miter"/>
<path d="M624.53 803.51L630.53 793.11L618.53 793.11Z" fill="#b03fc4" stroke="#000" stroke-width="1.6" stroke-linejoin="miter"/>
<path d="M101.62 278.30L108.10 284.78L101.62 291.26L95.14 284.78Z" fill="#68c832" stroke="#000" stroke-width="1.6" stroke-linejoin="miter"/>
<path d="M101.62 602.32L108.10 608.80L101.62 615.28L95.14 608.80Z" fill="#68c832" stroke="#000" stroke-width="1.6" stroke-linejoin="miter"/>
<path d="M101.62 640.44L108.10 646.92L101.62 653.40L95.14 646.92Z" fill="#68c832" stroke="#000" stroke-width="1.6" stroke-linejoin="miter"/>
<path d="M101.62 678.56L108.10 685.04L101.62 691.52L95.14 685.04Z" fill="#68c832" stroke="#000" stroke-width="1.6" stroke-linejoin="miter"/>
<path d="M102.84 735.74L109.32 742.22L102.84 748.70L96.36 742.22Z" fill="#68c832" stroke="#000" stroke-width="1.6" stroke-linejoin="miter"/>
<path d="M102.90 737.14L109.38 743.62L102.90 750.10L96.42 743.62Z" fill="#68c832" stroke="#000" stroke-width="1.6" stroke-linejoin="miter"/>
<path d="M102.97 738.54L109.45 745.02L102.97 751.50L96.49 745.02Z" fill="#68c832" stroke="#000" stroke-width="1.6" stroke-linejoin="miter"/>
<path d="M103.05 739.94L109.53 746.42L103.05 752.90L96.57 746.42Z" fill="#68c832" stroke="#000" stroke-width="1.6" stroke-linejoin="miter"/>
<path d="M103.13 741.34L109.61 747.82L103.13 754.30L96.65 747.82Z" fill="#68c832" stroke="#000" stroke-width="1.6" stroke-linejoin="miter"/>
<path d="M103.21 742.74L109.69 749.22L103.21 755.70L96.73 749.22Z" fill="#68c832" stroke="#000" stroke-width="1.6" stroke-linejoin="miter"/>
<path d="M103.31 744.14L109.79 750.62L103.31 757.10L96.83 750.62Z" fill="#68c832" stroke="#000" stroke-width="1.6" stroke-linejoin="miter"/>
<path d="M103.41 745.54L109.89 752.02L103.41 758.50L96.93 752.02Z" fill="#68c832" stroke="#000" stroke-width="1.6" stroke-linejoin="miter"/>
<path d="M103.52 746.94L110.00 753.42L103.52 759.90L97.04 753.42Z" fill="#68c832" stroke="#000" stroke-width="1.6" stroke-linejoin="miter"/>
<path d="M103.64 748.34L110.12 754.82L103.64 761.30L97.16 754.82Z" fill="#68c832" stroke="#000" stroke-width="1.6" stroke-linejoin="miter"/>
<path d="M103.77 749.74L110.25 756.22L103.77 762.70L97.29 756.22Z" fill="#68c832" stroke="#000" stroke-width="1.6" stroke-linejoin="miter"/>
<path d="M103.91 751.14L110.39 757.62L103.91 764.10L97.43 757.62Z" fill="#68c832" stroke="#000" stroke-width="1.6" stroke-linejoin="miter"/>
<path d="M104.06 752.54L110.54 759.02L104.06 765.50L97.58 759.02Z" fill="#68c832" stroke="#000" stroke-width="1.6" stroke-linejoin="miter"/>
<path d="M104.24 753.94L110.72 760.42L104.24 766.90L97.76 760.42Z" fill="#68c832" stroke="#000" stroke-width="1.6" stroke-linejoin="miter"/>
<path d="M104.43 755.34L110.91 761.82L104.43 768.30L97.95 761.82Z" fill="#68c832" stroke="#000" stroke-width="1.6" stroke-linejoin="miter"/>
<path d="M104.64 756.74L111.12 763.22L104.64 769.70L98.16 763.22Z" fill="#68c832" stroke="#000" stroke-width="1.6" stroke-linejoin="miter"/>
<path d="M104.88 758.14L111.36 764.62L104.88 771.10L98.40 764.62Z" fill="#68c832" stroke="#000" stroke-width="1.6" stroke-linejoin="miter"/>
<path d="M105.14 759.54L111.62 766.02L105.14 772.50L98.66 766.02Z" fill="#68c832" stroke="#000" stroke-width="1.6" stroke-linejoin="miter"/>
<path d="M105.44 760.94L111.92 767.42L105.44 773.90L98.96 767.42Z" fill="#68c832" stroke="#000" stroke-width="1.6" stroke-linejoin="miter"/>
<path d="M105.78 762.34L112.26 768.82L105.78 775.30L99.30 768.82Z" fill="#68c832" stroke="#000" stroke-width="1.6" stroke-linejoin="miter"/>
<path d="M106.17 763.74L112.65 770.22L106.17 776.70L99.69 770.22Z" fill="#68c832" stroke="#000" stroke-width="1.6" stroke-linejoin="miter"/>
<path d="M106.61 765.14L113.09 771.62L106.61 778.10L100.13 771.62Z" fill="#68c832" stroke="#000" stroke-width="1.6" stroke-linejoin="miter"/>
<path d="M107.11 766.54L113.59 773.02L107.11 779.50L100.63 773.02Z" fill="#68c832" stroke="#000" stroke-width="1.6" stroke-linejoin="miter"/>
<path d="M107.70 767.94L114.18 774.42L107.70 780.90L101.22 774.42Z" fill="#68c832" stroke="#000" stroke-width="1.6" stroke-linejoin="miter"/>
<path d="M108.39 769.34L114.87 775.82L108.39 782.30L101.91 775.82Z" fill="#68c832" stroke="#000" stroke-width="1.6" stroke-linejoin="miter"/>
<path d="M109.21 770.74L115.69 777.22L109.21 783.70L102.73 777.22Z" fill="#68c832" stroke="#000" stroke-width="1.6" stroke-linejoin="miter"/>
<path d="M110.08 772.00L116.56 778.48L110.08 784.96L103.60 778.48Z" fill="#68c832" stroke="#000" stroke-width="1.6" stroke-linejoin="miter"/>
<path d="M110.95 773.08L117.43 779.56L110.95 786.04L104.47 779.56Z" fill="#68c832" stroke="#000" stroke-width="1.6" stroke-linejoin="miter"/>
<path d="M111.82 774.02L118.30 780.50L111.82 786.98L105.34 780.50Z" fill="#68c832" stroke="#000" stroke-width="1.6" stroke-linejoin="miter"/>
<path d="M112.70 774.84L119.18 781.32L112.70 787.80L106.22 781.32Z" fill="#68c832" stroke="#000" stroke-width="1.6" stroke-linejoin="miter"/>
<path d="M113.57 775.57L120.05 782.05L113.57 788.53L107.09 782.05Z" fill="#68c832" stroke="#000" stroke-width="1.6" stroke-linejoin="miter"/>
<path d="M114.44 776.22L120.92 782.70L114.44 789.18L107.96 782.70Z" fill="#68c832" stroke="#000" stroke-width="1.6" stroke-linejoin="miter"/>
<path d="M115.31 776.81L121.79 783.29L115.31 789.77L108.83 783.29Z" fill="#68c832" stroke="#000" stroke-width="1.6" stroke-linejoin="miter"/>
<path d="M116.18 777.34L122.66 783.82L116.18 790.30L109.70 783.82Z" fill="#68c832" stroke="#000" stroke-width="1.6" stroke-linejoin="miter"/>
<path d="M117.06 777.83L123.54 784.31L117.06 790.79L110.58 784.31Z" fill="#68c832" stroke="#000" stroke-width="1.6" stroke-linejoin="miter"/>
<path d="M117.93 778.27L124.41 784.75L117.93 791.23L111.45 784.75Z" fill="#68c832" stroke="#000" stroke-width="1.6" stroke-linejoin="miter"/>
<path d="M118.80 778.68L125.28 785.16L118.80 791.64L112.32 785.16Z" fill="#68c832" stroke="#000" stroke-width="1.6" stroke-linejoin="miter"/>
<path d="M118.89 778.72L125.37 785.20L118.89 791.68L112.41 785.20Z" fill="#68c832" stroke="#000" stroke-width="1.6" stroke-linejoin="miter"/>
<path d="M123.25 780.36L129.72 786.84L123.25 793.32L116.77 786.84Z" fill="#68c832" stroke="#000" stroke-width="1.6" stroke-linejoin="miter"/>
<path d="M127.60 781.56L134.08 788.04L127.60 794.52L121.12 788.04Z" fill="#68c832" stroke="#000" stroke-width="1.6" stroke-linejoin="miter"/>
<path d="M131.96 782.49L138.44 788.97L131.96 795.45L125.48 788.97Z" fill="#68c832" stroke="#000" stroke-width="1.6" stroke-linejoin="miter"/>
<path d="M136.32 783.53L142.80 790.01L136.32 796.49L129.84 790.01Z" fill="#68c832" stroke="#000" stroke-width="1.6" stroke-linejoin="miter"/>
<path d="M145.04 785.04L151.52 791.52L145.04 798.00L138.56 791.52Z" fill="#68c832" stroke="#000" stroke-width="1.6" stroke-linejoin="miter"/>
<path d="M153.76 786.23L160.24 792.71L153.76 799.19L147.28 792.71Z" fill="#68c832" stroke="#000" stroke-width="1.6" stroke-linejoin="miter"/>
<path d="M179.91 787.36L186.39 793.84L179.91 800.32L173.43 793.84Z" fill="#68c832" stroke="#000" stroke-width="1.6" stroke-linejoin="miter"/>
<path d="M206.07 788.44L212.55 794.92L206.07 801.40L199.59 794.92Z" fill="#68c832" stroke="#000" stroke-width="1.6" stroke-linejoin="miter"/>
<path d="M232.22 789.50L238.70 795.98L232.22 802.46L225.74 795.98Z" fill="#68c832" stroke="#000" stroke-width="1.6" stroke-linejoin="miter"/>
<path d="M258.37 789.51L264.85 795.99L258.37 802.47L251.89 795.99Z" fill="#68c832" stroke="#000" stroke-width="1.6" stroke-linejoin="miter"/>
<path d="M284.53 790.46L291.01 796.94L284.53 803.42L278.05 796.94Z" fill="#68c832" stroke="#000" stroke-width="1.6" stroke-linejoin="miter"/>
<path d="M310.68 790.46L317.16 796.94L310.68 803.42L304.20 796.94Z" fill="#68c832" stroke="#000" stroke-width="1.6" stroke-linejoin="miter"/>
<path d="M336.84 790.46L343.32 796.94L336.84 803.42L330.36 796.94Z" fill="#68c832" stroke="#000" stroke-width="1.6" stroke-linejoin="miter"/>
<path d="M362.99 790.46L369.47 796.94L362.99 803.42L356.51 796.94Z" fill="#68c832" stroke="#000" stroke-width="1.6" stroke-linejoin="miter"/>
<path d="M389.14 790.46L395.62 796.94L389.14 803.42L382.66 796.94Z" fill="#68c832" stroke="#000" stroke-width="1.6" stroke-linejoin="miter"/>
<path d="M415.30 790.46L421.78 796.94L415.30 803.42L408.82 796.94Z" fill="#68c832" stroke="#000" stroke-width="1.6" stroke-linejoin="miter"/>
<path d="M441.45 790.46L447.93 796.94L441.45 803.42L434.97 796.94Z" fill="#68c832" stroke="#000" stroke-width="1.6" stroke-linejoin="miter"/>
<path d="M467.61 790.46L474.09 796.94L467.61 803.42L461.13 796.94Z" fill="#68c832" stroke="#000" stroke-width="1.6" stroke-linejoin="miter"/>
<path d="M493.76 790.46L500.24 796.94L493.76 803.42L487.28 796.94Z" fill="#68c832" stroke="#000" stroke-width="1.6" stroke-linejoin="miter"/>
<path d="M519.91 790.46L526.39 796.94L519.91 803.42L513.43 796.94Z" fill="#68c832" stroke="#000" stroke-width="1.6" stroke-linejoin="miter"/>
<path d="M546.07 790.46L552.55 796.94L546.07 803.42L539.59 796.94Z" fill="#68c832" stroke="#000" stroke-width="1.6" stroke-linejoin="miter"/>
<path d="M572.22 790.46L578.70 796.94L572.22 803.42L565.74 796.94Z" fill="#68c832" stroke="#000" stroke-width="1.6" stroke-linejoin="miter"/>
<path d="M624.53 790.46L631.01 796.94L624.53 803.42L618.05 796.94Z" fill="#68c832" stroke="#000" stroke-width="1.6" stroke-linejoin="miter"/>
<path d="M676.84 791.05L683.32 797.53L676.84 804.01L670.36 797.53Z" fill="#68c832" stroke="#000" stroke-width="1.6" stroke-linejoin="miter"/>
<path d="M729.15 791.05L735.63 797.53L729.15 804.01L722.67 797.53Z" fill="#68c832" stroke="#000" stroke-width="1.6" stroke-linejoin="miter"/>
<path d="M94.69 361.02L105.09 355.02L105.09 367.02Z" fill="#1420e8" stroke="#000" stroke-width="1.6" stroke-linejoin="miter"/>
<path d="M94.69 646.92L105.09 640.92L105.09 652.92Z" fill="#1420e8" stroke="#000" stroke-width="1.6" stroke-linejoin="miter"/>
<path d="M94.69 723.16L105.09 717.16L105.09 729.16Z" fill="#1420e8" stroke="#000" stroke-width="1.6" stroke-linejoin="miter"/>
<path d="M95.35 742.22L105.75 736.22L105.75 748.22Z" fill="#1420e8" stroke="#000" stroke-width="1.6" stroke-linejoin="miter"/>
<path d="M95.39 743.62L105.78 737.62L105.78 749.62Z" fill="#1420e8" stroke="#000" stroke-width="1.6" stroke-linejoin="miter"/>
<path d="M95.42 745.02L105.82 739.02L105.82 751.02Z" fill="#1420e8" stroke="#000" stroke-width="1.6" stroke-linejoin="miter"/>
<path d="M95.46 746.42L105.86 740.42L105.86 752.42Z" fill="#1420e8" stroke="#000" stroke-width="1.6" stroke-linejoin="miter"/>
<path d="M95.50 747.82L105.90 741.82L105.90 753.82Z" fill="#1420e8" stroke="#000" stroke-width="1.6" stroke-linejoin="miter"/>
<path d="M95.55 749.22L105.95 743.22L105.95 755.22Z" fill="#1420e8" stroke="#000" stroke-width="1.6" stroke-linejoin="miter"/>
<path d="M95.60 750.62L105.99 744.62L105.99 756.62Z" fill="#1420e8" stroke="#000" stroke-width="1.6" stroke-linejoin="miter"/>
<path d="M95.65 752.02L106.05 746.02L106.05 758.02Z" fill="#1420e8" stroke="#000" stroke-width="1.6" stroke-linejoin="miter"/>
<path d="M95.71 753.42L106.10 747.42L106.10 759.42Z" fill="#1420e8" stroke="#000" stroke-width="1.6" stroke-linejoin="miter"/>
<path d="M95.77 754.82L106.17 748.82L106.17 760.82Z" fill="#1420e8" stroke="#000" stroke-width="1.6" stroke-linejoin="miter"/>
<path d="M95.84 756.22L106.23 750.22L106.23 762.22Z" fill="#1420e8" stroke="#000" stroke-width="1.6" stroke-linejoin="miter"/>
<path d="M95.91 757.62L106.31 751.62L106.31 763.62Z" fill="#1420e8" stroke="#000" stroke-width="1.6" stroke-linejoin="miter"/>
<path d="M95.99 759.02L106.39 753.02L106.39 765.02Z" fill="#1420e8" stroke="#000" stroke-width="1.6" stroke-linejoin="miter"/>
<path d="M96.08 760.42L106.47 754.42L106.47 766.42Z" fill="#1420e8" stroke="#000" stroke-width="1.6" stroke-linejoin="miter"/>
<path d="M96.18 761.82L106.57 755.82L106.57 767.82Z" fill="#1420e8" stroke="#000" stroke-width="1.6" stroke-linejoin="miter"/>
<path d="M96.28 763.22L106.68 757.22L106.68 769.22Z" fill="#1420e8" stroke="#000" stroke-width="1.6" stroke-linejoin="miter"/>
<path d="M96.40 764.62L106.79 758.62L106.79 770.62Z" fill="#1420e8" stroke="#000" stroke-width="1.6" stroke-linejoin="miter"/>
<path d="M96.53 766.02L106.93 760.02L106.93 772.02Z" fill="#1420e8" stroke="#000" stroke-width="1.6" stroke-linejoin="miter"/>
<path d="M96.68 767.42L107.07 761.42L107.07 773.42Z" fill="#1420e8" stroke="#000" stroke-width="1.6" stroke-linejoin="miter"/>
<path d="M96.84 768.82L107.24 762.82L107.24 774.82Z" fill="#1420e8" stroke="#000" stroke-width="1.6" stroke-linejoin="miter"/>
<path d="M97.03 770.22L107.42 764.22L107.42 776.22Z" fill="#1420e8" stroke="#000" stroke-width="1.6" stroke-linejoin="miter"/>
<path d="M97.24 771.62L107.63 765.62L107.63 777.62Z" fill="#1420e8" stroke="#000" stroke-width="1.6" stroke-linejoin="miter"/>
<path d="M97.48 773.02L107.87 767.02L107.87 779.02Z" fill="#1420e8" stroke="#000" stroke-width="1.6" stroke-linejoin="miter"/>
<path d="M97.75 774.42L108.15 768.42L108.15 780.42Z" fill="#1420e8" stroke="#000" stroke-width="1.6" stroke-linejoin="miter"/>
<path d="M98.07 775.82L108.47 769.82L108.47 781.82Z" fill="#1420e8" stroke="#000" stroke-width="1.6" stroke-linejoin="miter"/>
<path d="M98.45 777.22L108.84 771.22L108.84 783.22Z" fill="#1420e8" stroke="#000" stroke-width="1.6" stroke-linejoin="miter"/>
<path d="M98.89 778.62L109.29 772.62L109.29 784.62Z" fill="#1420e8" stroke="#000" stroke-width="1.6" stroke-linejoin="miter"/>
<path d="M99.42 780.02L109.82 774.02L109.82 786.02Z" fill="#1420e8" stroke="#000" stroke-width="1.6" stroke-linejoin="miter"/>
<path d="M100.06 781.42L110.46 775.42L110.46 787.42Z" fill="#1420e8" stroke="#000" stroke-width="1.6" stroke-linejoin="miter"/>
<path d="M100.85 782.82L111.25 776.82L111.25 788.82Z" fill="#1420e8" stroke="#000" stroke-width="1.6" stroke-linejoin="miter"/>
<path d="M101.72 784.07L112.12 778.07L112.12 790.08Z" fill="#1420e8" stroke="#000" stroke-width="1.6" stroke-linejoin="miter"/>
<path d="M102.59 785.11L112.99 779.10L112.99 791.11Z" fill="#1420e8" stroke="#000" stroke-width="1.6" stroke-linejoin="miter"/>
<path d="M103.47 785.97L113.86 779.97L113.86 791.97Z" fill="#1420e8" stroke="#000" stroke-width="1.6" stroke-linejoin="miter"/>
<path d="M104.34 786.71L114.73 780.71L114.73 792.72Z" fill="#1420e8" stroke="#000" stroke-width="1.6" stroke-linejoin="miter"/>
<path d="M105.21 787.36L115.60 781.35L115.60 793.36Z" fill="#1420e8" stroke="#000" stroke-width="1.6" stroke-linejoin="miter"/>
<path d="M106.08 787.92L116.48 781.92L116.48 793.92Z" fill="#1420e8" stroke="#000" stroke-width="1.6" stroke-linejoin="miter"/>
<path d="M106.95 788.42L117.35 782.41L117.35 794.42Z" fill="#1420e8" stroke="#000" stroke-width="1.6" stroke-linejoin="miter"/>
<path d="M107.83 788.86L118.22 782.86L118.22 794.86Z" fill="#1420e8" stroke="#000" stroke-width="1.6" stroke-linejoin="miter"/>
<path d="M108.70 789.26L119.09 783.26L119.09 795.26Z" fill="#1420e8" stroke="#000" stroke-width="1.6" stroke-linejoin="miter"/>
<path d="M109.57 789.62L119.96 783.62L119.96 795.62Z" fill="#1420e8" stroke="#000" stroke-width="1.6" stroke-linejoin="miter"/>
<path d="M110.44 789.95L120.84 783.95L120.84 795.95Z" fill="#1420e8" stroke="#000" stroke-width="1.6" stroke-linejoin="miter"/>
<path d="M111.31 790.26L121.71 784.25L121.71 796.26Z" fill="#1420e8" stroke="#000" stroke-width="1.6" stroke-linejoin="miter"/>
<path d="M111.96 790.46L122.35 784.46L122.35 796.46Z" fill="#1420e8" stroke="#000" stroke-width="1.6" stroke-linejoin="miter"/>
<path d="M116.31 791.60L126.71 785.60L126.71 797.60Z" fill="#1420e8" stroke="#000" stroke-width="1.6" stroke-linejoin="miter"/>
<path d="M120.67 792.42L131.07 786.42L131.07 798.42Z" fill="#1420e8" stroke="#000" stroke-width="1.6" stroke-linejoin="miter"/>
<path d="M125.03 793.05L135.43 787.05L135.43 799.05Z" fill="#1420e8" stroke="#000" stroke-width="1.6" stroke-linejoin="miter"/>
<path d="M129.39 793.87L139.79 787.87L139.79 799.87Z" fill="#1420e8" stroke="#000" stroke-width="1.6" stroke-linejoin="miter"/>
<path d="M138.11 795.02L148.51 789.01L148.51 801.02Z" fill="#1420e8" stroke="#000" stroke-width="1.6" stroke-linejoin="miter"/>
<path d="M146.83 795.91L157.22 789.90L157.22 801.91Z" fill="#1420e8" stroke="#000" stroke-width="1.6" stroke-linejoin="miter"/>
<path d="M172.98 796.72L183.38 790.71L183.38 802.72Z" fill="#1420e8" stroke="#000" stroke-width="1.6" stroke-linejoin="miter"/>
<path d="M199.14 797.54L209.53 791.54L209.53 803.54Z" fill="#1420e8" stroke="#000" stroke-width="1.6" stroke-linejoin="miter"/>
<path d="M225.29 797.54L235.69 791.54L235.69 803.54Z" fill="#1420e8" stroke="#000" stroke-width="1.6" stroke-linejoin="miter"/>
<path d="M251.44 798.07L261.84 792.07L261.84 804.07Z" fill="#1420e8" stroke="#000" stroke-width="1.6" stroke-linejoin="miter"/>
<path d="M277.60 798.07L287.99 792.07L287.99 804.07Z" fill="#1420e8" stroke="#000" stroke-width="1.6" stroke-linejoin="miter"/>
<path d="M303.75 798.07L314.15 792.07L314.15 804.07Z" fill="#1420e8" stroke="#000" stroke-width="1.6" stroke-linejoin="miter"/>
<path d="M329.91 798.07L340.30 792.07L340.30 804.07Z" fill="#1420e8" stroke="#000" stroke-width="1.6" stroke-linejoin="miter"/>
<path d="M356.06 798.07L366.45 792.07L366.45 804.07Z" fill="#1420e8" stroke="#000" stroke-width="1.6" stroke-linejoin="miter"/>
<path d="M382.21 798.07L392.61 792.06L392.61 804.07Z" fill="#1420e8" stroke="#000" stroke-width="1.6" stroke-linejoin="miter"/>
<path d="M408.37 798.07L418.76 792.06L418.76 804.07Z" fill="#1420e8" stroke="#000" stroke-width="1.6" stroke-linejoin="miter"/>
<path d="M434.52 798.07L444.92 792.06L444.92 804.07Z" fill="#1420e8" stroke="#000" stroke-width="1.6" stroke-linejoin="miter"/>
<path d="M460.68 798.07L471.07 792.06L471.07 804.07Z" fill="#1420e8" stroke="#000" stroke-width="1.6" stroke-linejoin="miter"/>
<path d="M486.83 798.07L497.22 792.06L497.22 804.07Z" fill="#1420e8" stroke="#000" stroke-width="1.6" stroke-linejoin="miter"/>
<path d="M512.98 798.07L523.38 792.06L523.38 804.07Z" fill="#1420e8" stroke="#000" stroke-width="1.6" stroke-linejoin="miter"/>
<path d="M539.14 798.07L549.53 792.06L549.53 804.07Z" fill="#1420e8" stroke="#000" stroke-width="1.6" stroke-linejoin="miter"/>
<path d="M565.29 798.07L575.69 792.06L575.69 804.07Z" fill="#1420e8" stroke="#000" stroke-width="1.6" stroke-linejoin="miter"/>
<path d="M617.60 798.07L628.00 792.06L628.00 804.07Z" fill="#1420e8" stroke="#000" stroke-width="1.6" stroke-linejoin="miter"/>
<path d="M669.91 798.07L680.30 792.06L680.30 804.07Z" fill="#1420e8" stroke="#000" stroke-width="1.6" stroke-linejoin="miter"/>
<path d="M722.22 798.07L732.61 792.06L732.61 804.07Z" fill="#1420e8" stroke="#000" stroke-width="1.6" stroke-linejoin="miter"/>
<path d="M774.52 798.07L784.92 792.06L784.92 804.07Z" fill="#1420e8" stroke="#000" stroke-width="1.6" stroke-linejoin="miter"/>
<path d="M826.83 798.07L837.23 792.06L837.23 804.07Z" fill="#1420e8" stroke="#000" stroke-width="1.6" stroke-linejoin="miter"/>
<path d="M879.14 798.07L889.54 792.06L889.54 804.07Z" fill="#1420e8" stroke="#000" stroke-width="1.6" stroke-linejoin="miter"/>
<path d="M931.45 798.07L941.84 792.06L941.84 804.07Z" fill="#1420e8" stroke="#000" stroke-width="1.6" stroke-linejoin="miter"/>
<path d="M983.76 798.07L994.15 792.06L994.15 804.07Z" fill="#1420e8" stroke="#000" stroke-width="1.6" stroke-linejoin="miter"/>
<path d="M1036.06 798.07L1046.46 792.06L1046.46 804.07Z" fill="#1420e8" stroke="#000" stroke-width="1.6" stroke-linejoin="miter"/>
<path d="M1088.37 798.07L1098.77 792.06L1098.77 804.07Z" fill="#1420e8" stroke="#000" stroke-width="1.6" stroke-linejoin="miter"/>
<path d="M1140.68 798.07L1151.08 792.06L1151.08 804.07Z" fill="#1420e8" stroke="#000" stroke-width="1.6" stroke-linejoin="miter"/>
<path d="M1192.99 798.07L1203.38 792.06L1203.38 804.07Z" fill="#1420e8" stroke="#000" stroke-width="1.6" stroke-linejoin="miter"/>
<path d="M1245.30 798.07L1255.69 792.06L1255.69 804.07Z" fill="#1420e8" stroke="#000" stroke-width="1.6" stroke-linejoin="miter"/>
</g>
<g font-size="27.7">
<text x="76.6" y="807.70" text-anchor="end">0.0</text>
<text x="76.6" y="712.40" text-anchor="end">0.5</text>
<text x="76.6" y="617.10" text-anchor="end">1.0</text>
<text x="76.6" y="521.80" text-anchor="end">1.5</text>
<text x="76.6" y="426.50" text-anchor="end">2.0</text>
<text x="76.6" y="331.20" text-anchor="end">2.5</text>
<text x="76.6" y="235.90" text-anchor="end">3.0</text>
<text x="76.6" y="140.60" text-anchor="end">3.5</text>
<text x="76.6" y="45.30" text-anchor="end">4.0</text>
<text x="101.45" y="844.9" text-anchor="middle">0</text>
<text x="275.81" y="844.9" text-anchor="middle">200</text>
<text x="450.17" y="844.9" text-anchor="middle">400</text>
<text x="624.53" y="844.9" text-anchor="middle">600</text>
<text x="798.89" y="844.9" text-anchor="middle">800</text>
<text x="973.25" y="844.9" text-anchor="middle">1000</text>
<text x="1147.61" y="844.9" text-anchor="middle">1200</text>
<text x="1321.97" y="844.9" text-anchor="middle">1400</text>
<text x="148" y="19.1" text-anchor="middle">60</text>
<text x="355.7" y="19.1" text-anchor="middle">300</text>
<text x="755.4" y="887.2" text-anchor="middle">Time/min</text>
</g>
<text transform="translate(27.6 418) rotate(-90)" font-size="31" text-anchor="middle" textLength="340" lengthAdjust="spacing">Infiltration rate/(mm min<tspan font-size="19.5" dy="-14.5">-1</tspan><tspan dy="14.5">)</tspan></text>
<ellipse cx="256.85" cy="801" rx="105.5" ry="36.7" fill="none" stroke="#000" stroke-width="1.7"/>
<line x1="160.5" y1="796.6" x2="717.60" y2="83.57" stroke="#000" stroke-width="1.7"/><path d="M729.30 68.60L720.63 88.47L712.12 81.82Z" fill="#000"/>
<line x1="369.5" y1="794.6" x2="1128.02" y2="653.77" stroke="#000" stroke-width="1.7"/><path d="M1146.70 650.30L1127.04 659.44L1125.07 648.82Z" fill="#000"/>
<path d="M789.4 58.4V565.2H1394" stroke="#000" stroke-width="2" fill="none" stroke-linejoin="miter"/>
<path d="M789.4 565.00h9M789.4 463.86h9M789.4 362.72h9M789.4 261.58h9M789.4 160.44h9M789.4 59.30h9M888.00 565.0v9M1139.75 565.0v9M1391.50 565.0v9" stroke="#000" stroke-width="1.7" fill="none"/>
<g clip-path="url(#ci)">
<rect x="781.75" y="172.08" width="11.10" height="11.10" fill="#000000" stroke="#000" stroke-width="1.85" stroke-linejoin="round"/>
<rect x="857.28" y="210.01" width="11.10" height="11.10" fill="#000000" stroke="#000" stroke-width="1.85" stroke-linejoin="round"/>
<rect x="932.80" y="245.92" width="11.10" height="11.10" fill="#000000" stroke="#000" stroke-width="1.85" stroke-linejoin="round"/>
<rect x="1008.33" y="279.80" width="11.10" height="11.10" fill="#000000" stroke="#000" stroke-width="1.85" stroke-linejoin="round"/>
<rect x="1083.85" y="312.16" width="11.10" height="11.10" fill="#000000" stroke="#000" stroke-width="1.85" stroke-linejoin="round"/>
<rect x="1159.38" y="342.50" width="11.10" height="11.10" fill="#000000" stroke="#000" stroke-width="1.85" stroke-linejoin="round"/>
<rect x="1234.90" y="370.82" width="11.10" height="11.10" fill="#000000" stroke="#000" stroke-width="1.85" stroke-linejoin="round"/>
<rect x="1310.42" y="397.12" width="11.10" height="11.10" fill="#000000" stroke="#000" stroke-width="1.85" stroke-linejoin="round"/>
<rect x="1385.95" y="421.90" width="11.10" height="11.10" fill="#000000" stroke="#000" stroke-width="1.85" stroke-linejoin="round"/>
<circle cx="787.30" cy="300.52" r="6.10" fill="#f5230f" stroke="#000" stroke-width="1.85" stroke-linejoin="miter"/>
<circle cx="862.83" cy="333.39" r="6.10" fill="#f5230f" stroke="#000" stroke-width="1.85" stroke-linejoin="miter"/>
<circle cx="938.35" cy="364.74" r="6.10" fill="#f5230f" stroke="#000" stroke-width="1.85" stroke-linejoin="miter"/>
<circle cx="1013.88" cy="394.07" r="6.10" fill="#f5230f" stroke="#000" stroke-width="1.85" stroke-linejoin="miter"/>
<circle cx="1089.40" cy="420.88" r="6.10" fill="#f5230f" stroke="#000" stroke-width="1.85" stroke-linejoin="miter"/>
<circle cx="1164.92" cy="447.17" r="6.10" fill="#f5230f" stroke="#000" stroke-width="1.85" stroke-linejoin="miter"/>
<circle cx="1240.45" cy="447.17" r="6.10" fill="#f5230f" stroke="#000" stroke-width="1.85" stroke-linejoin="miter"/>
<circle cx="1315.97" cy="447.17" r="6.10" fill="#f5230f" stroke="#000" stroke-width="1.85" stroke-linejoin="miter"/>
<circle cx="1391.50" cy="447.17" r="6.10" fill="#f5230f" stroke="#000" stroke-width="1.85" stroke-linejoin="miter"/>
<path d="M787.30 327.21L793.97 338.76L780.63 338.76Z" fill="#f4e916" stroke="#000" stroke-width="1.85" stroke-linejoin="miter"/>
<path d="M862.83 357.04L869.49 368.59L856.16 368.59Z" fill="#f4e916" stroke="#000" stroke-width="1.85" stroke-linejoin="miter"/>
<path d="M938.35 384.86L945.02 396.41L931.68 396.41Z" fill="#f4e916" stroke="#000" stroke-width="1.85" stroke-linejoin="miter"/>
<path d="M1013.88 410.90L1020.54 422.45L1007.21 422.45Z" fill="#f4e916" stroke="#000" stroke-width="1.85" stroke-linejoin="miter"/>
<path d="M1089.40 436.08L1096.07 447.63L1082.73 447.63Z" fill="#f4e916" stroke="#000" stroke-width="1.85" stroke-linejoin="miter"/>
<path d="M1164.92 458.18L1171.59 469.73L1158.26 469.73Z" fill="#f4e916" stroke="#000" stroke-width="1.85" stroke-linejoin="miter"/>
<path d="M1240.45 458.18L1247.12 469.73L1233.78 469.73Z" fill="#f4e916" stroke="#000" stroke-width="1.85" stroke-linejoin="miter"/>
<path d="M1315.97 457.83L1322.64 469.38L1309.31 469.38Z" fill="#f4e916" stroke="#000" stroke-width="1.85" stroke-linejoin="miter"/>
<path d="M1391.50 457.83L1398.17 469.38L1384.83 469.38Z" fill="#f4e916" stroke="#000" stroke-width="1.85" stroke-linejoin="miter"/>
<path d="M787.30 363.49L793.97 351.94L780.63 351.94Z" fill="#b03fc4" stroke="#000" stroke-width="1.85" stroke-linejoin="miter"/>
<path d="M862.83 388.68L869.49 377.13L856.16 377.13Z" fill="#b03fc4" stroke="#000" stroke-width="1.85" stroke-linejoin="miter"/>
<path d="M938.35 413.71L945.02 402.16L931.68 402.16Z" fill="#b03fc4" stroke="#000" stroke-width="1.85" stroke-linejoin="miter"/>
<path d="M1013.88 437.17L1020.54 425.62L1007.21 425.62Z" fill="#b03fc4" stroke="#000" stroke-width="1.85" stroke-linejoin="miter"/>
<path d="M1089.40 459.02L1096.07 447.47L1082.73 447.47Z" fill="#b03fc4" stroke="#000" stroke-width="1.85" stroke-linejoin="miter"/>
<path d="M1164.92 479.90L1171.59 468.35L1158.26 468.35Z" fill="#b03fc4" stroke="#000" stroke-width="1.85" stroke-linejoin="miter"/>
<path d="M1240.45 479.90L1247.12 468.35L1233.78 468.35Z" fill="#b03fc4" stroke="#000" stroke-width="1.85" stroke-linejoin="miter"/>
<path d="M1315.97 497.70L1322.64 486.15L1309.31 486.15Z" fill="#b03fc4" stroke="#000" stroke-width="1.85" stroke-linejoin="miter"/>
<path d="M1391.50 497.70L1398.17 486.15L1384.83 486.15Z" fill="#b03fc4" stroke="#000" stroke-width="1.85" stroke-linejoin="miter"/>
<path d="M787.30 380.20L794.50 387.40L787.30 394.60L780.10 387.40Z" fill="#68c832" stroke="#000" stroke-width="1.85" stroke-linejoin="miter"/>
<path d="M862.83 410.19L870.03 417.39L862.83 424.59L855.62 417.39Z" fill="#68c832" stroke="#000" stroke-width="1.85" stroke-linejoin="miter"/>
<path d="M938.35 439.01L945.55 446.21L938.35 453.41L931.15 446.21Z" fill="#68c832" stroke="#000" stroke-width="1.85" stroke-linejoin="miter"/>
<path d="M1013.88 466.98L1021.08 474.18L1013.88 481.38L1006.67 474.18Z" fill="#68c832" stroke="#000" stroke-width="1.85" stroke-linejoin="miter"/>
<path d="M1089.40 467.28L1096.60 474.48L1089.40 481.68L1082.20 474.48Z" fill="#68c832" stroke="#000" stroke-width="1.85" stroke-linejoin="miter"/>
<path d="M1164.92 492.51L1172.12 499.71L1164.92 506.91L1157.72 499.71Z" fill="#68c832" stroke="#000" stroke-width="1.85" stroke-linejoin="miter"/>
<path d="M1240.45 492.51L1247.65 499.71L1240.45 506.91L1233.25 499.71Z" fill="#68c832" stroke="#000" stroke-width="1.85" stroke-linejoin="miter"/>
<path d="M1315.97 492.51L1323.17 499.71L1315.97 506.91L1308.77 499.71Z" fill="#68c832" stroke="#000" stroke-width="1.85" stroke-linejoin="miter"/>
<path d="M1391.50 492.51L1398.70 499.71L1391.50 506.91L1384.30 499.71Z" fill="#68c832" stroke="#000" stroke-width="1.85" stroke-linejoin="miter"/>
<path d="M779.60 472.31L791.15 465.64L791.15 478.97Z" fill="#1420e8" stroke="#000" stroke-width="1.85" stroke-linejoin="miter"/>
<path d="M855.12 493.80L866.68 487.13L866.68 500.47Z" fill="#1420e8" stroke="#000" stroke-width="1.85" stroke-linejoin="miter"/>
<path d="M930.65 515.59L942.20 508.92L942.20 522.26Z" fill="#1420e8" stroke="#000" stroke-width="1.85" stroke-linejoin="miter"/>
<path d="M1006.17 515.59L1017.73 508.92L1017.73 522.26Z" fill="#1420e8" stroke="#000" stroke-width="1.85" stroke-linejoin="miter"/>
<path d="M1081.70 529.70L1093.25 523.03L1093.25 536.37Z" fill="#1420e8" stroke="#000" stroke-width="1.85" stroke-linejoin="miter"/>
<path d="M1157.22 529.70L1168.77 523.03L1168.77 536.37Z" fill="#1420e8" stroke="#000" stroke-width="1.85" stroke-linejoin="miter"/>
<path d="M1232.75 529.70L1244.30 523.03L1244.30 536.37Z" fill="#1420e8" stroke="#000" stroke-width="1.85" stroke-linejoin="miter"/>
<path d="M1308.27 529.70L1319.82 523.03L1319.82 536.37Z" fill="#1420e8" stroke="#000" stroke-width="1.85" stroke-linejoin="miter"/>
<path d="M1383.80 529.70L1395.35 523.03L1395.35 536.37Z" fill="#1420e8" stroke="#000" stroke-width="1.85" stroke-linejoin="miter"/>
</g>
<g font-size="30.5">
<text x="779.7" y="574.20" text-anchor="end">0.00</text>
<text x="779.7" y="473.06" text-anchor="end">0.02</text>
<text x="779.7" y="371.92" text-anchor="end">0.04</text>
<text x="779.7" y="270.78" text-anchor="end">0.06</text>
<text x="779.7" y="169.64" text-anchor="end">0.08</text>
<text x="779.7" y="68.50" text-anchor="end">0.10</text>
<text x="888.50" y="604.0" text-anchor="middle">100</text>
<text x="1140.25" y="604.0" text-anchor="middle">200</text>
<text x="1392.00" y="604.0" text-anchor="middle">300</text>
<text x="1103.6" y="640.4" text-anchor="middle">Time/min</text>
</g>
<text transform="translate(712.2 328.4) rotate(-90)" font-size="29" text-anchor="middle" textLength="325" lengthAdjust="spacing">Infiltration rate/(mm min<tspan font-size="19.5" dy="-14.5">-1</tspan><tspan dy="14.5">)</tspan></text>
<g font-size="27">
<rect x="1259.45" y="83.35" width="11.10" height="11.10" fill="#000000" stroke="#000" stroke-width="1.85" stroke-linejoin="round"/>
<text x="1300.6" y="97.50">CK</text>
<circle cx="1265.00" cy="120.90" r="6.10" fill="#f5230f" stroke="#000" stroke-width="1.85" stroke-linejoin="miter"/>
<text x="1300.6" y="129.50">W1</text>
<path d="M1265.00 145.20L1271.67 156.75L1258.33 156.75Z" fill="#f4e916" stroke="#000" stroke-width="1.85" stroke-linejoin="miter"/>
<text x="1300.6" y="161.50">W2</text>
<path d="M1265.00 192.60L1271.67 181.05L1258.33 181.05Z" fill="#b03fc4" stroke="#000" stroke-width="1.85" stroke-linejoin="miter"/>
<text x="1300.6" y="193.50">W3</text>
<path d="M1265.00 209.70L1272.20 216.90L1265.00 224.10L1257.80 216.90Z" fill="#68c832" stroke="#000" stroke-width="1.85" stroke-linejoin="miter"/>
<text x="1300.6" y="225.50">W4</text>
<path d="M1257.30 248.90L1268.85 242.23L1268.85 255.57Z" fill="#1420e8" stroke="#000" stroke-width="1.85" stroke-linejoin="miter"/>
<text x="1300.6" y="257.50">W5</text>
</g>
</svg>
</body></html>
